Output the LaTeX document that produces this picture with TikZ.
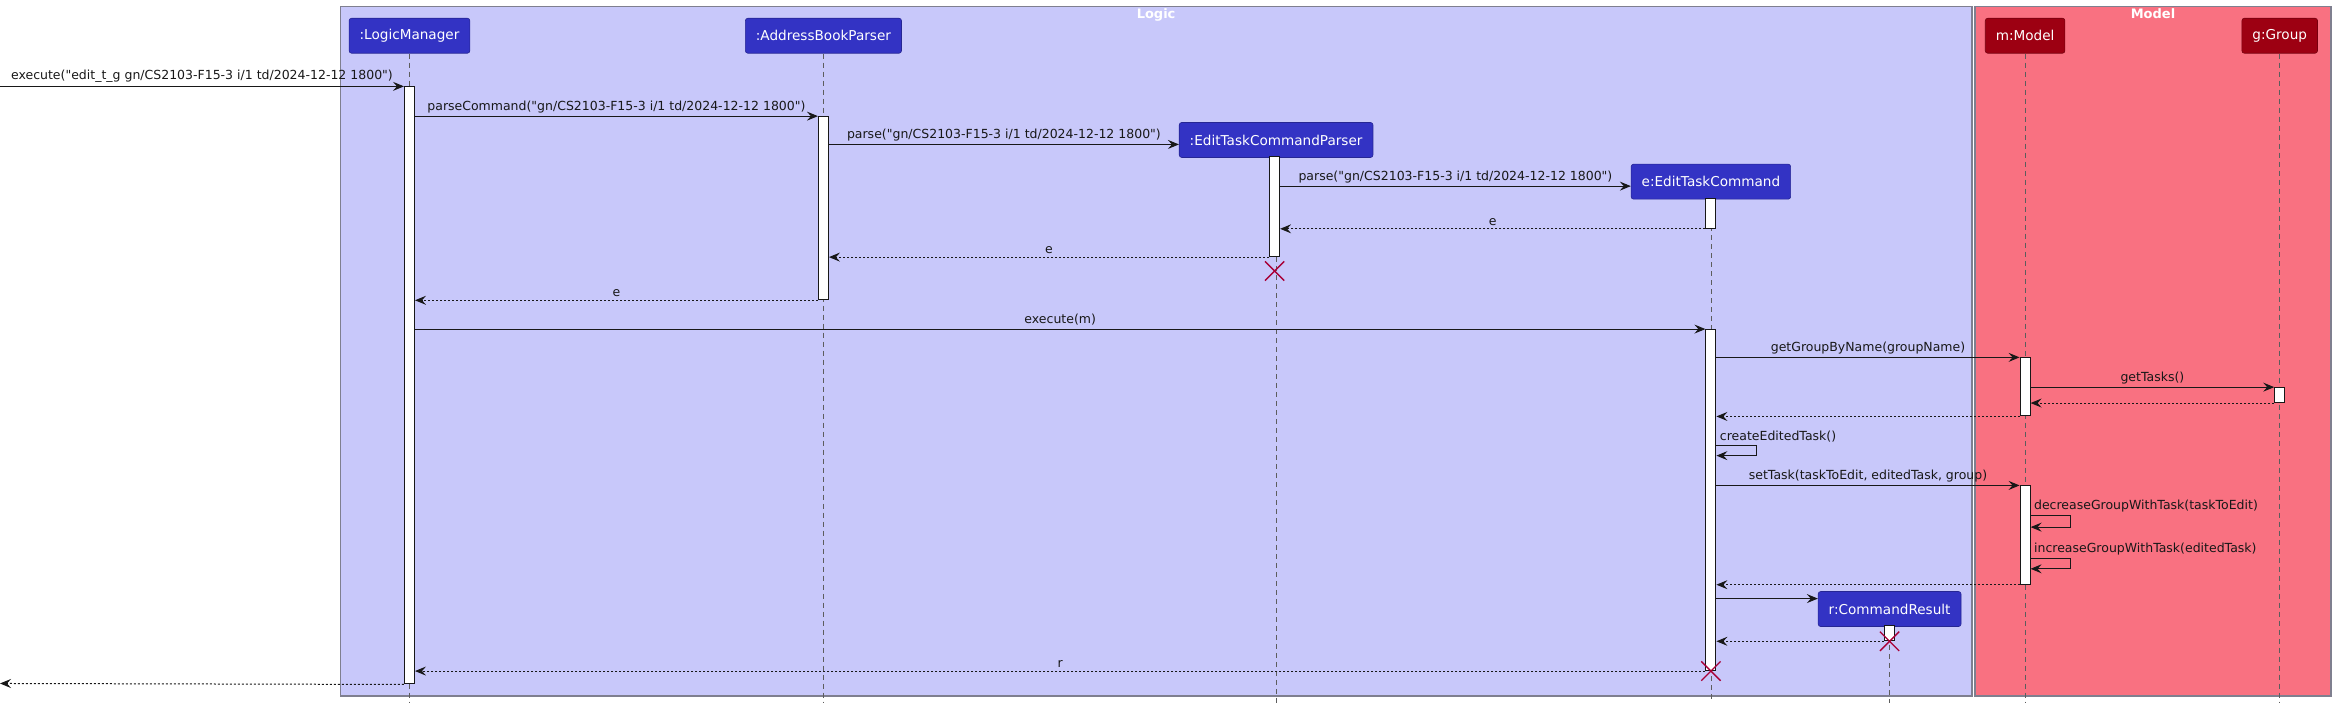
\documentclass[tikz,border=0pt]{standalone}
\usepackage{fontspec}
\setmainfont{DejaVu Sans}[Ligatures=TeXOff]
\usetikzlibrary{arrows.meta,shapes.misc}
\definecolor{logicbg}{HTML}{C8C8FA}
\definecolor{modelbg}{HTML}{F97181}
\definecolor{logicp}{HTML}{3333C4}
\definecolor{modelp}{HTML}{9D0012}
\definecolor{xcol}{HTML}{A80036}
\definecolor{ln}{HTML}{181818}
\definecolor{grpline}{HTML}{7F7F8F}
\newcommand\actbar[4]{\node[act, minimum height={(#4-#3)*1.489pt}, anchor=north] (#1) at (#2,#3) {};}
\begin{document}
\begin{tikzpicture}[x=1.489pt,y=-1.489pt,
  grp/.style={draw=grpline, line width=1.2pt, inner sep=0pt, anchor=north west},
  gtitle/.style={text=white, font=\bfseries\fontsize{13}{15}\selectfont, anchor=north, inner sep=2pt},
  part/.style={rounded corners=2.5pt, minimum height=35pt, inner xsep=10.5pt, text=white,
    font=\fontsize{13.6}{16}\selectfont, draw=#1!75!black, fill=#1, line width=0.6pt},
  life/.style={draw=ln!70, dash pattern=on 5pt off 4pt, line width=0.8pt},
  act/.style={draw=ln, fill=white, inner sep=0pt, minimum width=10pt, line width=1pt},
  msg/.style={draw=ln, line width=1pt, -{Stealth[length=11pt,width=9pt,inset=4pt]}},
  ret/.style={msg, dash pattern=on 2pt off 2pt},
  lbl/.style={font=\fontsize{12.5}{14}\selectfont, text=ln, inner sep=3pt, above},
  slbl/.style={font=\fontsize{12.5}{14}\selectfont, text=ln, inner sep=3pt, anchor=south west},
  xmark/.style={cross out, draw=xcol, minimum size=18pt, inner sep=0pt, line width=1.3pt}
]
\useasboundingbox (0,0) rectangle (1568.14,475.48);
% groups
\node[grp, fill=logicbg, minimum width={1096*1.489pt}, minimum height={463*1.489pt}] (logic) at (228,4) {};
\node[grp, fill=modelbg, minimum width={239*1.489pt}, minimum height={463*1.489pt}] (model) at (1326,4) {};
\node[gtitle] (logicT) at (logic.north) {Logic};
\node[gtitle] (modelT) at (model.north) {Model};
% participants
\node[part=logicp] (lm) at (275,24) {:LogicManager};
\node[part=logicp] (abp) at (553,24) {:AddressBookParser};
\node[part=logicp] (etcp) at (857,94) {:EditTaskCommandParser};
\node[part=logicp] (etc) at (1149,122) {e:EditTaskCommand};
\node[part=logicp] (cr) at (1269,409) {r:CommandResult};
\node[part=modelp] (m) at (1360,24) {m:Model};
\node[part=modelp] (g) at (1531,24) {g:Group};
% lifelines
\foreach \p in {lm,abp,etcp,etc,cr,m,g} \draw[life] (\p.south) -- (\p.south |- 0,472);
% activations
\actbar{lmA}{275}{58}{459}
\actbar{abpA}{553}{78}{201}
\actbar{etcpA}{856}{105}{172}
\actbar{etcA1}{1149}{133}{153}
\actbar{etcA2}{1149}{221}{450}
\actbar{mA1}{1360}{240}{279}
\actbar{gA}{1531}{260}{270}
\actbar{mA2}{1360}{326}{392}
\actbar{crA}{1269}{420}{430}
% messages
\coordinate (inL) at (0,58);
\draw[msg] (inL) -- node[lbl]{execute("edit\_t\_g gn/CS2103-F15-3 i/1 td/2024-12-12 1800")} (lmA.north west);
\draw[msg] (lmA.east |- abpA.north) -- node[lbl]{parseCommand("gn/CS2103-F15-3 i/1 td/2024-12-12 1800")} (abpA.north west);
\draw[msg] (abpA.east |- 0,97) -- node[lbl]{parse("gn/CS2103-F15-3 i/1 td/2024-12-12 1800")} (etcp.west |- 0,97);
\draw[msg] (etcpA.east |- 0,125) -- node[lbl]{parse("gn/CS2103-F15-3 i/1 td/2024-12-12 1800")} (etc.west |- 0,125);
\draw[ret] (etcA1.south west) -- node[lbl]{e} (etcpA.east |- etcA1.south);
\draw[ret] (etcpA.south west) -- node[lbl]{e} (abpA.east |- etcpA.south);
\node[xmark] (x1) at (856,182) {};
\draw[ret] (abpA.south west) -- node[lbl]{e} (lmA.east |- abpA.south);
\draw[msg] (lmA.east |- etcA2.north) -- node[lbl]{execute(m)} (etcA2.north west);
\draw[msg] (etcA2.east |- mA1.north) -- node[lbl]{getGroupByName(groupName)} (mA1.north west);
\draw[msg] (mA1.east |- gA.north) -- node[lbl]{getTasks()} (gA.north west);
\draw[ret] (gA.south west) -- (mA1.east |- gA.south);
\draw[ret] (mA1.south west) -- (etcA2.east |- mA1.south);
\draw[msg] (etcA2.east |- 0,299) node[slbl]{createEditedTask()} -- ++(27,0) -- ++(0,7) -- (etcA2.east |- 0,306);
\draw[msg] (etcA2.east |- mA2.north) -- node[lbl]{setTask(taskToEdit, editedTask, group)} (mA2.north west);
\draw[msg] (mA2.east |- 0,346) node[slbl]{decreaseGroupWithTask(taskToEdit)} -- ++(27,0) -- ++(0,8) -- (mA2.east |- 0,354);
\draw[msg] (mA2.east |- 0,375) node[slbl]{increaseGroupWithTask(editedTask)} -- ++(27,0) -- ++(0,7) -- (mA2.east |- 0,382);
\draw[ret] (mA2.south west) -- (etcA2.east |- mA2.south);
\draw[msg] (etcA2.east |- 0,402) -- (cr.west |- 0,402);
\draw[ret] (crA.south west) -- (etcA2.east |- crA.south);
\node[xmark] (x2) at (crA.south) {};
\draw[ret] (etcA2.south west) -- node[lbl]{r} (lmA.east |- etcA2.south);
\node[xmark] (x3) at (etcA2.south) {};
\coordinate (outL) at (0,459);
\draw[ret] (lmA.south west) -- (outL);
\end{tikzpicture}
\end{document}
